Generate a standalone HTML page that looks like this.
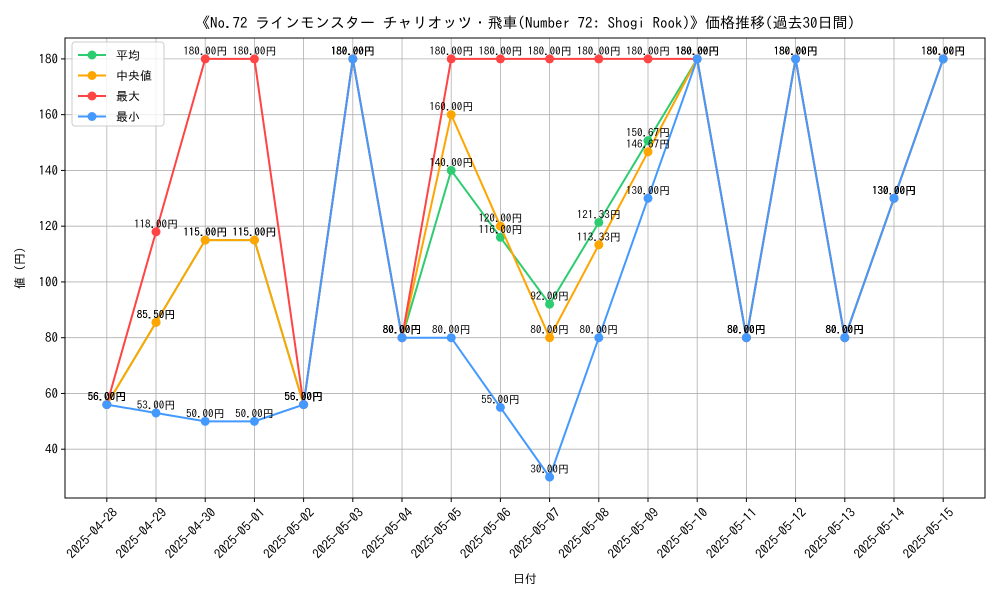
<!DOCTYPE html>
<html><head><meta charset="utf-8"><style>
body{margin:0;background:#fff;}
svg{display:block;font-family:"IPAGothic","Liberation Sans","Noto Sans CJK JP",sans-serif;}
</style></head><body>
<svg id="chart" width="1000" height="600" viewBox="0 0 1000 600">
<text x="525" y="28" text-anchor="middle" font-size="15">《No.72 ラインモンスター チャリオッツ・飛車(Number 72: Shogi Rook)》価格推移(過去30日間)</text>
<g id="grid"></g><g id="axes"></g><g id="series"></g><g id="labels"></g>
<text x="525" y="583" text-anchor="middle" font-size="12">日付</text>
<text transform="translate(24,268) rotate(-90)" text-anchor="middle" font-size="12">値 (円)</text>
<g id="legend"></g>
</svg>
<script>
const dates=["2025-04-28","2025-04-29","2025-04-30","2025-05-01","2025-05-02","2025-05-03","2025-05-04","2025-05-05","2025-05-06","2025-05-07","2025-05-08","2025-05-09","2025-05-10","2025-05-11","2025-05-12","2025-05-13","2025-05-14","2025-05-15"];
const avgVals=[56,85.5,115,115,56,180,80,140,116,92,121.33,150.67,180,80,180,80,130,180];
const medianVals=[56,85.5,115,115,56,180,80,160,120,80,113.33,146.67,180,80,180,80,130,180];
const maxVals=[56,118,180,180,56,180,80,180,180,180,180,180,180,80,180,80,130,180];
const minVals=[56,53,50,50,56,180,80,80,55,30,80,130,180,80,180,80,130,180];
const yTicks=[40,60,80,100,120,140,160,180];
const seriesNames=["平均","中央値","最大","最小"];
const seriesColors=["#2ecc71","#ffa500","#ff4444","#4499ff"];
const L=65,R=985,T=38,B=498;
const n=dates.length;
const allV=[].concat(avgVals,medianVals,maxVals,minVals);
const vmin=Math.min(...allV),vmax=Math.max(...allV),pad=(vmax-vmin)*0.05;
const y0=vmin-pad,y1=vmax+pad;
const xm=(n-1)*0.05;
function xs(i){return L+(i+xm)/(n-1+2*xm)*(R-L);}
function ys(v){return B-(v-y0)/(y1-y0)*(B-T);}
const NS="http://www.w3.org/2000/svg";
function mk(tag,attrs,parent){const e=document.createElementNS(NS,tag);for(const k in attrs)e.setAttribute(k,attrs[k]);parent.appendChild(e);return e;}
const grid=document.getElementById('grid'),axes=document.getElementById('axes');
dates.forEach((d,i)=>{
 const x=xs(i);
 const g=mk('line',{x1:x,x2:x,y1:T,y2:B,stroke:'#b0b0b0','stroke-width':0.8},grid);
 
 
 mk('line',{x1:x,x2:x,y1:B,y2:B+4,stroke:'#000'},axes);
 const t=mk('text',{transform:`translate(${x+5},${B+9}) rotate(-45)`,'text-anchor':'end','font-size':13,dy:'0.7em'},axes);
 
 
 t.textContent=d;
});
yTicks.forEach(v=>{
 const y=ys(v);
 const g=mk('line',{x1:L,x2:R,y1:y,y2:y,stroke:'#b0b0b0','stroke-width':0.8},grid);
 
 
 mk('line',{x1:L-4,x2:L,y1:y,y2:y,stroke:'#000'},axes);
 const t=mk('text',{x:L-7,y:y+4.5,'text-anchor':'end','font-size':13},axes);
 
 
 t.textContent=v;
});
const fr=mk('rect',{x:L,y:T,width:R-L,height:B-T,fill:'none',stroke:'#000','stroke-width':1},axes);


const seriesData=[avgVals,medianVals,maxVals,minVals];
const sg=document.getElementById('series'),lg=document.getElementById('labels');
seriesData.forEach((vals,si)=>{
 const c=seriesColors[si];
 const pl=mk('polyline',{points:vals.map((v,i)=>xs(i)+','+ys(v)).join(' '),fill:'none',stroke:c,'stroke-width':2},sg);
 
 
 vals.forEach((v,i)=>{
  const p=mk('circle',{cx:xs(i),cy:ys(v),r:4.5,fill:c},sg);
  
  
  const t=mk('text',{x:xs(i),y:ys(v)-4,'text-anchor':'middle','font-size':11},lg);
  
  
  t.textContent=v.toFixed(2)+'円';
 });
});
const lgd=document.getElementById('legend');
mk('rect',{x:72,y:42,width:92,height:84,fill:'#fff','fill-opacity':0.8,stroke:'#ccc',rx:3},lgd);
seriesNames.forEach((nm,i)=>{
 const y=55+i*20.5;
 const e=mk('g',{},lgd);
 
 
 mk('line',{x1:78,x2:106,y1:y,y2:y,stroke:seriesColors[i],'stroke-width':2},e);
 mk('circle',{cx:92,cy:y,r:4.5,fill:seriesColors[i]},e);
 const t=mk('text',{x:116,y:y+4.5,'font-size':12},e);
 t.textContent=nm;
});
</script>
</body></html>
